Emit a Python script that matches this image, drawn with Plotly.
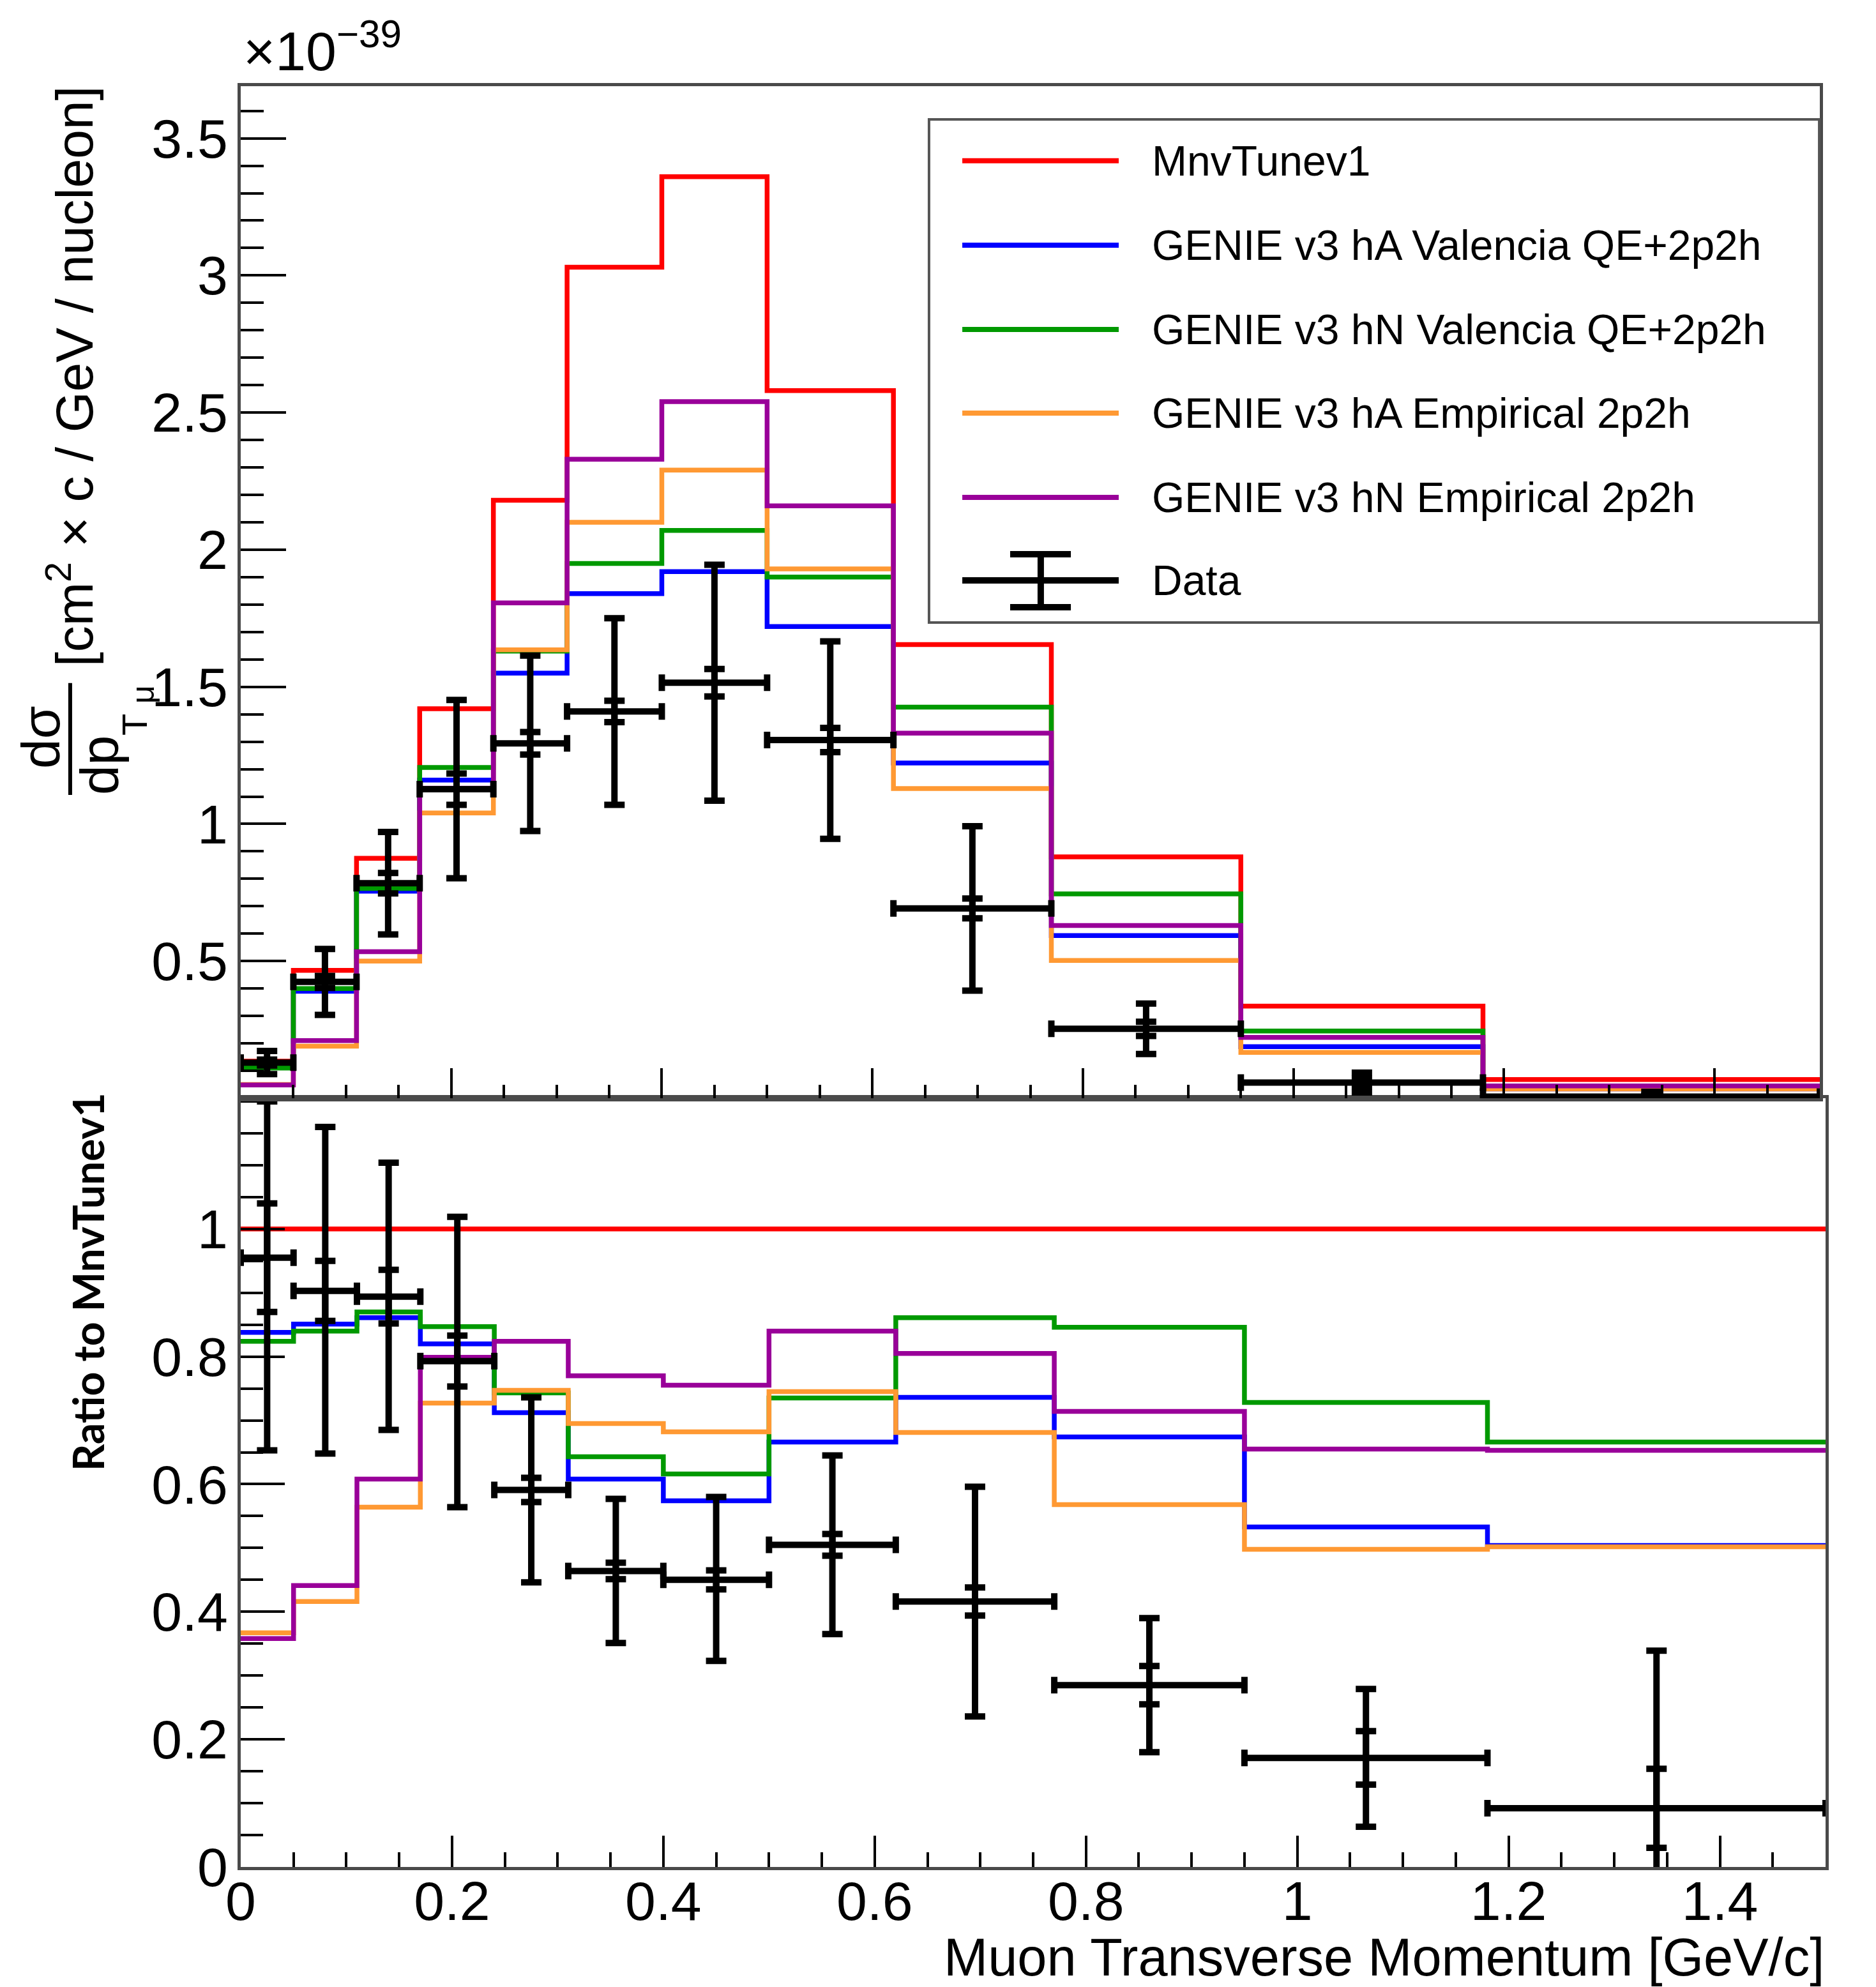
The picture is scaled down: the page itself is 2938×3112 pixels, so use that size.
import plotly.graph_objects as go

# ---------------- data ----------------
bin_edges = [0.0, 0.05, 0.11, 0.17, 0.24, 0.31, 0.40, 0.50, 0.62, 0.77, 0.95, 1.18, 1.50]

# cross section, units of 1e-39 cm^2 c/GeV/nucleon
mnvtune = [0.135, 0.466, 0.875, 1.42, 2.18, 3.03, 3.36, 2.58, 1.654, 0.880, 0.336, 0.068]
ha_valencia = [0.115, 0.39, 0.755, 1.16, 1.55, 1.84, 1.92, 1.72, 1.222, 0.593, 0.188, 0.034]
hn_valencia = [0.11, 0.40, 0.765, 1.206, 1.63, 1.95, 2.07, 1.90, 1.426, 0.745, 0.245, 0.045]
ha_empirical = [0.05, 0.19, 0.50, 1.04, 1.635, 2.10, 2.29, 1.93, 1.129, 0.502, 0.167, 0.034]
hn_empirical = [0.048, 0.21, 0.534, 1.13, 1.806, 2.33, 2.54, 2.16, 1.331, 0.630, 0.222, 0.045]

data_xs = [0.13, 0.424, 0.784, 1.127, 1.294, 1.41, 1.515, 1.306, 0.692, 0.253, 0.057, 0.006]
data_xs_tot = [0.042, 0.12, 0.187, 0.325, 0.32, 0.34, 0.43, 0.36, 0.30, 0.092, 0.036, 0.017]
data_xs_stat = [0.011, 0.022, 0.037, 0.057, 0.041, 0.039, 0.05, 0.044, 0.036, 0.026, 0.014, 0.004]

# ratio to MnvTunev1
ratio_mnvtune = [1.0] * 12
ratio_ha_valencia = [0.838, 0.851, 0.861, 0.820, 0.712, 0.608, 0.574, 0.666, 0.736, 0.674, 0.533, 0.504]
ratio_hn_valencia = [0.824, 0.840, 0.870, 0.847, 0.743, 0.643, 0.616, 0.735, 0.861, 0.846, 0.728, 0.666]
ratio_ha_empirical = [0.367, 0.416, 0.564, 0.727, 0.747, 0.695, 0.682, 0.745, 0.681, 0.568, 0.498, 0.502]
ratio_hn_empirical = [0.358, 0.441, 0.608, 0.799, 0.824, 0.770, 0.755, 0.840, 0.805, 0.714, 0.655, 0.653]

ratio_data = [0.955, 0.903, 0.894, 0.793, 0.591, 0.464, 0.450, 0.505, 0.416, 0.285, 0.171, 0.092]
ratio_data_tot_up = [0.245, 0.257, 0.21, 0.226, 0.145, 0.113, 0.13, 0.14, 0.18, 0.105, 0.108, 0.247]
ratio_data_tot_dn = [0.302, 0.255, 0.209, 0.229, 0.145, 0.113, 0.127, 0.14, 0.18, 0.105, 0.108, 0.247]
ratio_data_stat = [0.085, 0.047, 0.042, 0.04, 0.019, 0.013, 0.015, 0.017, 0.022, 0.03, 0.042, 0.062]

model_names = ["MnvTunev1", "GENIE v3 hA Valencia QE+2p2h", "GENIE v3 hN Valencia QE+2p2h",
               "GENIE v3 hA Empirical 2p2h", "GENIE v3 hN Empirical 2p2h"]
model_colors = ["#ff0000", "#0000ff", "#009900", "#ff9933", "#990099"]

y_ticks_top = [0.5, 1, 1.5, 2, 2.5, 3, 3.5]
y_ticks_bot = [0, 0.2, 0.4, 0.6, 0.8, 1.0]

# ---------------- figure ----------------
FONT = "Liberation Sans"
centers = [(a + b) / 2 for a, b in zip(bin_edges[:-1], bin_edges[1:])]
halfw = [(b - a) / 2 for a, b in zip(bin_edges[:-1], bin_edges[1:])]

fig = go.Figure()

top_models = [mnvtune, ha_valencia, hn_valencia, ha_empirical, hn_empirical]
bot_models = [ratio_mnvtune, ratio_ha_valencia, ratio_hn_valencia, ratio_ha_empirical, ratio_hn_empirical]

LW = 7.5
for vals, col, nm in zip(top_models, model_colors, model_names):
    fig.add_trace(go.Scatter(x=bin_edges, y=vals + [vals[-1]], mode="lines", name=nm,
                             line=dict(color=col, width=LW, shape="hv"),
                             xaxis="x2", yaxis="y2", showlegend=False, hoverinfo="skip"))
for vals, col, nm in zip(bot_models, model_colors, model_names):
    fig.add_trace(go.Scatter(x=bin_edges, y=vals + [vals[-1]], mode="lines", name=nm,
                             line=dict(color=col, width=LW, shape="hv"),
                             xaxis="x", yaxis="y", showlegend=False, hoverinfo="skip"))

ERR_T = 10
# top data
fig.add_trace(go.Scatter(x=centers, y=data_xs, mode="markers", name="Data",
                         marker=dict(size=2, color="black"),
                         error_x=dict(type="data", array=halfw, color="black", thickness=ERR_T, width=13),
                         error_y=dict(type="data", array=data_xs_tot, color="black", thickness=ERR_T, width=16),
                         xaxis="x2", yaxis="y2", showlegend=False, hoverinfo="skip"))
fig.add_trace(go.Scatter(x=centers, y=data_xs, mode="markers", name="Data stat",
                         marker=dict(size=2, color="black"),
                         error_y=dict(type="data", array=data_xs_stat, color="black", thickness=ERR_T, width=16),
                         xaxis="x2", yaxis="y2", showlegend=False, hoverinfo="skip"))
# bottom data
fig.add_trace(go.Scatter(x=centers, y=ratio_data, mode="markers", name="Data",
                         marker=dict(size=2, color="black"),
                         error_x=dict(type="data", array=halfw, color="black", thickness=ERR_T, width=13),
                         error_y=dict(type="data", symmetric=False, array=ratio_data_tot_up,
                                      arrayminus=ratio_data_tot_dn, color="black", thickness=ERR_T, width=16),
                         xaxis="x", yaxis="y", showlegend=False, hoverinfo="skip"))
fig.add_trace(go.Scatter(x=centers, y=ratio_data, mode="markers", name="Data stat",
                         marker=dict(size=2, color="black"),
                         error_y=dict(type="data", array=ratio_data_stat, color="black", thickness=ERR_T, width=16),
                         xaxis="x", yaxis="y", showlegend=False, hoverinfo="skip"))

AX_COL = "#4a4a4a"
tickfont = dict(family=FONT, size=86, color="black")
common = dict(showline=True, linecolor=AX_COL, linewidth=5, mirror=True, showgrid=False,
              zeroline=False, ticks="inside", tickcolor="black", tickwidth=4)

fig.update_layout(
    width=2938, height=3112,
    margin=dict(l=377, r=79, t=135, b=188, pad=0),
    paper_bgcolor="white", plot_bgcolor="white",
    showlegend=False,
    xaxis=dict(domain=[0, 1], range=[0, 1.5], anchor="y", dtick=0.2, tick0=0, ticklen=49,
               minor=dict(dtick=0.05, tick0=0, ticklen=23, tickwidth=4, ticks="inside", tickcolor="black"),
               tickfont=tickfont, ticklabelstandoff=-25, **common),
    yaxis=dict(domain=[0, 0.4317], range=[0, 1.205], anchor="x", tickmode="array", tickvals=y_ticks_bot,
               ticklen=69,
               minor=dict(dtick=0.05, tick0=0, ticklen=35, tickwidth=4, ticks="inside", tickcolor="black"),
               tickfont=tickfont, ticklabelstandoff=-2, **common),
    xaxis2=dict(domain=[0, 0.9964], range=[0, 1.5], anchor="y2", dtick=0.2, tick0=0, ticklen=47,
                showticklabels=False,
                minor=dict(dtick=0.05, tick0=0, ticklen=21, tickwidth=4, ticks="inside", tickcolor="black"),
                **common),
    yaxis2=dict(domain=[0.4317, 1], range=[0, 3.69], anchor="x2", tickmode="array", tickvals=y_ticks_top,
                ticklen=71,
                minor=dict(dtick=0.1, tick0=0, ticklen=36, tickwidth=4, ticks="inside", tickcolor="black"),
                tickfont=tickfont, ticklabelstandoff=-2, **common),
)

# ---------------- legend (drawn manually, ROOT style) ----------------
shapes = [dict(type="rect", xref="paper", yref="paper", x0=0.4343, x1=0.9960, y0=0.6988, y1=0.9814,
               line=dict(color="#555555", width=4), fillcolor="white", layer="above")]
row_y = [0.9581, 0.9107, 0.8634, 0.8164, 0.7691, 0.7225]
annotations = []
for i, (nm, col) in enumerate(zip(model_names, model_colors)):
    shapes.append(dict(type="line", xref="paper", yref="paper", x0=0.4553, x1=0.5540,
                       y0=row_y[i], y1=row_y[i], line=dict(color=col, width=8), layer="above"))
    annotations.append(dict(xref="paper", yref="paper", x=0.5741, y=row_y[i], text=nm, showarrow=False,
                            xanchor="left", yanchor="middle", font=dict(family=FONT, size=66, color="black")))
# Data entry
dy = row_y[5]
shapes += [
    dict(type="line", xref="paper", yref="paper", x0=0.4553, x1=0.5540, y0=dy, y1=dy,
         line=dict(color="black", width=10), layer="above"),
    dict(type="line", xref="paper", yref="paper", x0=0.5048, x1=0.5048, y0=0.7074, y1=0.7372,
         line=dict(color="black", width=10), layer="above"),
    dict(type="line", xref="paper", yref="paper", x0=0.4855, x1=0.5238, y0=0.7372, y1=0.7372,
         line=dict(color="black", width=10), layer="above"),
    dict(type="line", xref="paper", yref="paper", x0=0.4855, x1=0.5238, y0=0.7074, y1=0.7074,
         line=dict(color="black", width=10), layer="above"),
]
annotations.append(dict(xref="paper", yref="paper", x=0.5741, y=dy, text="Data", showarrow=False,
                        xanchor="left", yanchor="middle", font=dict(family=FONT, size=66, color="black")))

# ---------------- axis titles ----------------
annotations.append(dict(xref="paper", yref="paper", x=1.0, y=-0.0509, xanchor="right", yanchor="middle",
                        text="Muon Transverse Momentum [GeV/c]", showarrow=False,
                        font=dict(family=FONT, size=83, color="black")))
annotations.append(dict(xref="paper", yref="paper", x=-0.0963, y=0.3288, xanchor="center", yanchor="middle",
                        text="<b>Ratio to MnvTunev1</b>", textangle=-90, showarrow=False,
                        font=dict(family="Lato", size=66, color="black")))
annotations.append(dict(xref="paper", yref="paper", x=0.0008, y=1.0018, xanchor="left", yanchor="bottom",
                        text="×10<sup>−39</sup>", showarrow=False,
                        font=dict(family=FONT, size=86, color="black")))
# y title of the top panel: d sigma / d p_T_mu [cm^2 x c / GeV / nucleon]
annotations += [
    dict(xref="paper", yref="paper", x=-0.1076, y=0.8372, xanchor="center", yanchor="middle",
         text="[cm<sup>2</sup> × c / GeV / nucleon]", textangle=-90, showarrow=False,
         font=dict(family=FONT, size=82, color="black")),
    dict(xref="paper", yref="paper", x=-0.1261, y=0.6343, xanchor="center", yanchor="middle",
         text="dσ", textangle=-90, showarrow=False, font=dict(family=FONT, size=84, color="black")),
    dict(xref="paper", yref="paper", x=-0.0890, y=0.6185, xanchor="center", yanchor="middle",
         text="dp", textangle=-90, showarrow=False, font=dict(family=FONT, size=84, color="black")),
    dict(xref="paper", yref="paper", x=-0.0673, y=0.6414, xanchor="center", yanchor="middle",
         text="T", textangle=-90, showarrow=False, font=dict(family=FONT, size=56, color="black")),
    dict(xref="paper", yref="paper", x=-0.0616, y=0.6583, xanchor="center", yanchor="middle",
         text="μ", textangle=-90, showarrow=False, font=dict(family=FONT, size=50, color="black")),
]
shapes.append(dict(type="line", xref="paper", yref="paper", x0=-0.1076, x1=-0.1076, y0=0.6020, y1=0.6648,
                   line=dict(color="black", width=6)))

fig.update_layout(shapes=shapes, annotations=annotations)

fig.write_html("out.html", config={"displayModeBar": False},
               post_script="document.body.style.margin='0';")
